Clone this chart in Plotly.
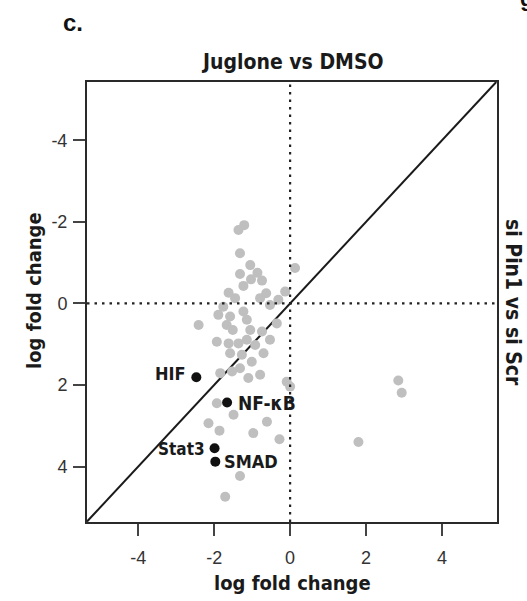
import plotly.graph_objects as go

# gray genes (x: Juglone vs DMSO, y: si Pin1 vs si Scr)
gray_x = [-1.21, -1.36, -1.32, -1.05, -0.86, -1.32, -1.03, -0.74, -1.23, -0.63, -1.62, -1.45, -0.79, -0.31, -0.13, -1.76, -0.53,
          -1.89, -2.41, -1.58, -1.23, -1.14, -1.51, -1.67, -1.05, -0.74, -1.93, -1.62, -1.36, -1.14, -0.92, -0.53, -0.70, -1.27,
          -1.58, -1.01, -1.32, -1.84, -1.53, -1.10, -0.79, -0.09, -0.35,
          -2.15, -1.86, -0.61, -0.97, -0.28, -1.32, -1.71, -1.93, -1.49, 0.00, 2.85, 2.94, 1.80, 0.13]
gray_y = [-1.92, -1.80, -1.23, -0.94, -0.75, -0.72, -0.59, -0.56, -0.43, -0.25, -0.26, -0.13, -0.13, -0.09, -0.29, 0.08, 0.04,
          0.28, 0.53, 0.32, 0.20, 0.40, 0.65, 0.53, 0.65, 0.69, 0.94, 0.98, 0.98, 0.89, 1.02, 0.89, 1.22, 1.26,
          1.22, 1.43, 1.59, 1.71, 1.67, 1.83, 1.75, 1.92, 0.49,
          2.94, 3.12, 2.90, 3.18, 3.33, 4.23, 4.74, 2.45, 2.73, 2.04, 1.89, 2.19, 3.40, -0.87]

# highlighted pathways
hl_names = ["HIF", "NF-κB", "Stat3", "SMAD"]
hl_x = [-2.47, -1.66, -1.99, -1.97]
hl_y = [1.81, 2.43, 3.55, 3.88]

tick_vals = [-4, -2, 0, 2, 4]
tick_text = ["-4", "-2", "0", "2", "4"]

x_range = [-5.35, 5.45]
y_range = [5.36, -5.43]

narrow = "Liberation Sans Narrow, DejaVu Sans Condensed, Arial Narrow, sans-serif"
ink = "#1a1a1a"

fig = go.Figure()

# diagonal y = -x
fig.add_trace(go.Scatter(x=[x_range[0], -y_range[1]], y=[-x_range[0], y_range[1]], mode="lines",
                         line=dict(color=ink, width=2), hoverinfo="skip", showlegend=False))

fig.add_trace(go.Scatter(x=gray_x, y=gray_y, mode="markers",
                         marker=dict(color="#bfbfbf", size=10, line=dict(width=0)), showlegend=False))
fig.add_trace(go.Scatter(x=hl_x, y=hl_y, mode="markers",
                         marker=dict(color="#111111", size=10, line=dict(width=0)), showlegend=False))

# dotted zero lines
fig.add_shape(type="line", xref="x", yref="paper", x0=0, x1=0, y0=0, y1=1,
              line=dict(color="#222222", width=2.2, dash="2.5px,5px"))
fig.add_shape(type="line", xref="paper", yref="y", x0=0, x1=1, y0=0, y1=0,
              line=dict(color="#222222", width=2.2, dash="2.5px,5px"))

# labels for highlighted points
offsets = {"HIF": ("right", -8, 4, 18), "NF-κB": ("left", 9, 0, 19),
           "Stat3": ("right", -8, -1, 17), "SMAD": ("left", 7, 0, 18)}
for n, x, y in zip(hl_names, hl_x, hl_y):
    anc, xs, ys, fs = offsets[n]
    fig.add_annotation(x=x, y=y, text=f"<b>{n}</b>", showarrow=False, xanchor=anc, yanchor="middle",
                       xshift=xs, yshift=ys, font=dict(family=narrow, size=fs, color=ink))

# titles
fig.add_annotation(xref="paper", yref="paper", x=0.5, y=1.0, yshift=20, xanchor="center", yanchor="middle",
                   text="<b>Juglone vs DMSO</b>", showarrow=False, font=dict(family=narrow, size=21, color=ink))
fig.add_annotation(xref="paper", yref="paper", x=0.5, y=0, yshift=-61, xanchor="center", yanchor="middle",
                   text="<b>log fold change</b>", showarrow=False, font=dict(family=narrow, size=20, color=ink))
fig.add_annotation(xref="paper", yref="paper", x=0, y=0.525, xshift=-53, xanchor="center", yanchor="middle",
                   text="<b>log fold change</b>", textangle=-90, showarrow=False,
                   font=dict(family=narrow, size=20, color=ink))
fig.add_annotation(xref="paper", yref="paper", x=1, y=0.5, xshift=16, xanchor="center", yanchor="middle",
                   text="<b>si Pin1 vs si Scr</b>", textangle=90, showarrow=False,
                   font=dict(family=narrow, size=21, color=ink))
fig.add_annotation(xref="paper", yref="paper", x=0, y=1, xshift=-26, yshift=60, xanchor="left", yanchor="middle",
                   text="<b>c.</b>", showarrow=False,
                   font=dict(family="Liberation Sans, Arial, sans-serif", size=24, color="#111111"))
fig.add_annotation(xref="paper", yref="paper", x=1, y=1, xshift=21, yshift=84, xanchor="left", yanchor="middle",
                   text="<b>g</b>", showarrow=False,
                   font=dict(family="Liberation Sans, Arial, sans-serif", size=22, color="#111111"))

axis_common = dict(showgrid=False, zeroline=False, showline=True, linecolor="#2a2a2a", linewidth=2,
                   mirror=True, ticks="outside", ticklen=12, tickwidth=2, tickcolor="#444444",
                   tickvals=tick_vals, ticktext=tick_text,
                   tickfont=dict(family="Liberation Sans, Arial, sans-serif", size=18, color="#333333"))

fig.update_layout(
    width=527, height=601,
    margin=dict(l=87, r=30, t=82, b=79),
    paper_bgcolor="white", plot_bgcolor="white",
    xaxis=dict(range=x_range, ticklabelstandoff=6, **axis_common),
    yaxis=dict(range=y_range, ticklabelstandoff=2, **axis_common),
    showlegend=False,
)

fig.write_html("out.html", config={"displayModeBar": False},
               post_script="document.body.style.margin='0';")
